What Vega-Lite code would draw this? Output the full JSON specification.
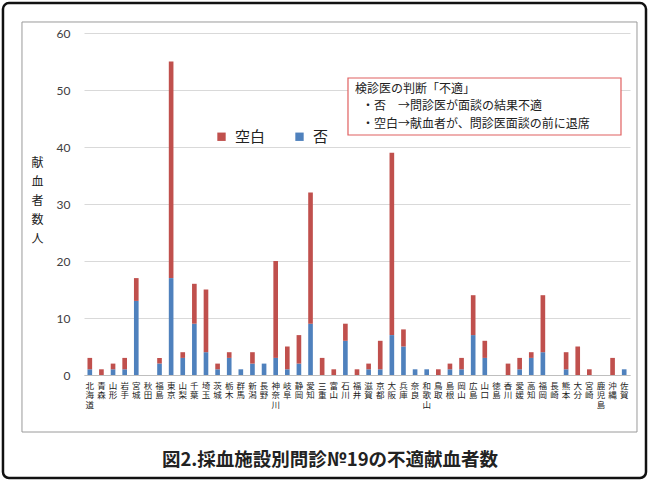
{
  "$schema": "https://vega.github.io/schema/vega-lite/v6.json",
  "autosize": {"type": "none"},
  "width": 546,
  "height": 342,
  "padding": {"left": 84, "top": 33, "right": 19, "bottom": 106},
  "background": "white",
  "config": {"view": {"stroke": null}, "font": "Noto Sans CJK JP"},
  "title": {"text": "図2.採血施設別問診№19の不適献血者数", "orient": "bottom", "frame": "group", "anchor": "middle", "baseline": "top", "fontSize": 18.5, "fontWeight": "bold", "color": "#222222", "dx": -27, "offset": -28, "font": "Noto Sans CJK JP"},
  "layer": [
    {
      "data": {"values": [
        {"pref": "北海道", "type": "否", "n": 1}, {"pref": "北海道", "type": "空白", "n": 2},
        {"pref": "青森", "type": "否", "n": 0}, {"pref": "青森", "type": "空白", "n": 1},
        {"pref": "山形", "type": "否", "n": 1}, {"pref": "山形", "type": "空白", "n": 1},
        {"pref": "岩手", "type": "否", "n": 1}, {"pref": "岩手", "type": "空白", "n": 2},
        {"pref": "宮城", "type": "否", "n": 13}, {"pref": "宮城", "type": "空白", "n": 4},
        {"pref": "秋田", "type": "否", "n": 0}, {"pref": "秋田", "type": "空白", "n": 0},
        {"pref": "福島", "type": "否", "n": 2}, {"pref": "福島", "type": "空白", "n": 1},
        {"pref": "東京", "type": "否", "n": 17}, {"pref": "東京", "type": "空白", "n": 38},
        {"pref": "山梨", "type": "否", "n": 3}, {"pref": "山梨", "type": "空白", "n": 1},
        {"pref": "千葉", "type": "否", "n": 9}, {"pref": "千葉", "type": "空白", "n": 7},
        {"pref": "埼玉", "type": "否", "n": 4}, {"pref": "埼玉", "type": "空白", "n": 11},
        {"pref": "茨城", "type": "否", "n": 1}, {"pref": "茨城", "type": "空白", "n": 1},
        {"pref": "栃木", "type": "否", "n": 3}, {"pref": "栃木", "type": "空白", "n": 1},
        {"pref": "群馬", "type": "否", "n": 1}, {"pref": "群馬", "type": "空白", "n": 0},
        {"pref": "新潟", "type": "否", "n": 2}, {"pref": "新潟", "type": "空白", "n": 2},
        {"pref": "長野", "type": "否", "n": 2}, {"pref": "長野", "type": "空白", "n": 0},
        {"pref": "神奈川", "type": "否", "n": 3}, {"pref": "神奈川", "type": "空白", "n": 17},
        {"pref": "岐阜", "type": "否", "n": 1}, {"pref": "岐阜", "type": "空白", "n": 4},
        {"pref": "静岡", "type": "否", "n": 2}, {"pref": "静岡", "type": "空白", "n": 5},
        {"pref": "愛知", "type": "否", "n": 9}, {"pref": "愛知", "type": "空白", "n": 23},
        {"pref": "三重", "type": "否", "n": 0}, {"pref": "三重", "type": "空白", "n": 3},
        {"pref": "富山", "type": "否", "n": 0}, {"pref": "富山", "type": "空白", "n": 1},
        {"pref": "石川", "type": "否", "n": 6}, {"pref": "石川", "type": "空白", "n": 3},
        {"pref": "福井", "type": "否", "n": 0}, {"pref": "福井", "type": "空白", "n": 1},
        {"pref": "滋賀", "type": "否", "n": 1}, {"pref": "滋賀", "type": "空白", "n": 1},
        {"pref": "京都", "type": "否", "n": 1}, {"pref": "京都", "type": "空白", "n": 5},
        {"pref": "大阪", "type": "否", "n": 7}, {"pref": "大阪", "type": "空白", "n": 32},
        {"pref": "兵庫", "type": "否", "n": 5}, {"pref": "兵庫", "type": "空白", "n": 3},
        {"pref": "奈良", "type": "否", "n": 1}, {"pref": "奈良", "type": "空白", "n": 0},
        {"pref": "和歌山", "type": "否", "n": 1}, {"pref": "和歌山", "type": "空白", "n": 0},
        {"pref": "鳥取", "type": "否", "n": 0}, {"pref": "鳥取", "type": "空白", "n": 1},
        {"pref": "島根", "type": "否", "n": 1}, {"pref": "島根", "type": "空白", "n": 1},
        {"pref": "岡山", "type": "否", "n": 1}, {"pref": "岡山", "type": "空白", "n": 2},
        {"pref": "広島", "type": "否", "n": 7}, {"pref": "広島", "type": "空白", "n": 7},
        {"pref": "山口", "type": "否", "n": 3}, {"pref": "山口", "type": "空白", "n": 3},
        {"pref": "徳島", "type": "否", "n": 0}, {"pref": "徳島", "type": "空白", "n": 0},
        {"pref": "香川", "type": "否", "n": 0}, {"pref": "香川", "type": "空白", "n": 2},
        {"pref": "愛媛", "type": "否", "n": 1}, {"pref": "愛媛", "type": "空白", "n": 2},
        {"pref": "高知", "type": "否", "n": 3}, {"pref": "高知", "type": "空白", "n": 1},
        {"pref": "福岡", "type": "否", "n": 4}, {"pref": "福岡", "type": "空白", "n": 10},
        {"pref": "長崎", "type": "否", "n": 0}, {"pref": "長崎", "type": "空白", "n": 0},
        {"pref": "熊本", "type": "否", "n": 1}, {"pref": "熊本", "type": "空白", "n": 3},
        {"pref": "大分", "type": "否", "n": 0}, {"pref": "大分", "type": "空白", "n": 5},
        {"pref": "宮崎", "type": "否", "n": 0}, {"pref": "宮崎", "type": "空白", "n": 1},
        {"pref": "鹿児島", "type": "否", "n": 0}, {"pref": "鹿児島", "type": "空白", "n": 0},
        {"pref": "沖縄", "type": "否", "n": 0}, {"pref": "沖縄", "type": "空白", "n": 3},
        {"pref": "佐賀", "type": "否", "n": 1}, {"pref": "佐賀", "type": "空白", "n": 0}
      ]},
      "mark": {"type": "bar"},
      "encoding": {
        "x": {"field": "pref", "type": "nominal", "sort": null,
              "scale": {"paddingInner": 0.6, "paddingOuter": 0.3},
              "axis": {"title": null, "labelExpr": "split(datum.label, '')", "labelAngle": 0, "labelBaseline": "top",
                       "labelFontSize": 8.5, "labelLineHeight": 9.5, "labelPadding": 6, "labelColor": "#222222",
                       "labelOverlap": false, "labelFlush": false, "ticks": false, "domainColor": "#bfbfbf", "grid": false}},
        "y": {"field": "n", "type": "quantitative", "stack": "zero",
              "scale": {"domain": [0, 60], "nice": false},
              "axis": {"values": [0, 10, 20, 30, 40, 50, 60], "domain": false, "ticks": false, "gridColor": "#d9d9d9",
                       "labelFont": "Lato", "labelFontSize": 12, "labelColor": "#404040", "labelPadding": 14,
                       "title": ["献", "血", "者", "数", "人"], "titleAngle": 0, "titleX": -47, "titleY": 124,
                       "titleAlign": "center", "titleBaseline": "top", "titleLineHeight": 19,
                       "titleFontSize": 12, "titleFontWeight": "normal", "titleColor": "#222222"}},
        "color": {"field": "type", "type": "nominal",
                  "scale": {"domain": ["空白", "否"], "range": ["#c0504d", "#4f81bd"]},
                  "legend": {"title": null, "orient": "none", "direction": "horizontal", "legendX": 130, "legendY": 96,
                             "symbolType": "square", "symbolSize": 70, "labelFontSize": 15, "labelColor": "#222222",
                             "labelOffset": 6, "columnPadding": 26}},
        "order": {"field": "type", "sort": "ascending"}
      }
    },
    {
      "data": {"values": [{"x1": -0.1136, "x2": 1.0128, "y1": 1.0322, "y2": -0.1667}]},
      "mark": {"type": "rect", "fill": "transparent", "stroke": "#9a9a9a", "strokeWidth": 1},
      "encoding": {
        "x": {"field": "x1", "type": "quantitative", "scale": {"domain": [0, 1], "nice": false, "zero": false}, "axis": null},
        "x2": {"field": "x2"},
        "y": {"field": "y1", "type": "quantitative", "scale": {"domain": [0, 1], "nice": false, "zero": false}, "axis": null},
        "y2": {"field": "y2"}
      }
    },
    {
      "data": {"values": [{"x1": -0.1484, "x2": 1.0293, "y1": 1.0877, "y2": -0.3012}]},
      "mark": {"type": "rect", "fill": "transparent", "stroke": "#111111", "strokeWidth": 2.5, "cornerRadius": 6},
      "encoding": {
        "x": {"field": "x1", "type": "quantitative", "scale": {"domain": [0, 1], "nice": false, "zero": false}, "axis": null},
        "x2": {"field": "x2"},
        "y": {"field": "y1", "type": "quantitative", "scale": {"domain": [0, 1], "nice": false, "zero": false}, "axis": null},
        "y2": {"field": "y2"}
      }
    },
    {
      "data": {"values": [{"x1": 0.4835, "x2": 0.9835, "y1": 0.8684, "y2": 0.7018}]},
      "mark": {"type": "rect", "fill": "white", "stroke": "#e06060", "strokeWidth": 1.2},
      "encoding": {
        "x": {"field": "x1", "type": "quantitative", "scale": {"domain": [0, 1], "nice": false, "zero": false}, "axis": null},
        "x2": {"field": "x2"},
        "y": {"field": "y1", "type": "quantitative", "scale": {"domain": [0, 1], "nice": false, "zero": false}, "axis": null},
        "y2": {"field": "y2"}
      }
    },
    {
      "data": {"values": [
        {"x": 0.4963, "y": 0.8363, "t": "検診医の判断「不適」"},
        {"x": 0.5092, "y": 0.7865, "t": "・否　→問診医が面談の結果不適"},
        {"x": 0.5092, "y": 0.7339, "t": "・空白→献血者が、問診医面談の前に退席"}
      ]},
      "mark": {"type": "text", "align": "left", "baseline": "middle", "fontSize": 12, "color": "#222222"},
      "encoding": {
        "x": {"field": "x", "type": "quantitative", "scale": {"domain": [0, 1], "nice": false, "zero": false}, "axis": null},
        "y": {"field": "y", "type": "quantitative", "scale": {"domain": [0, 1], "nice": false, "zero": false}, "axis": null},
        "text": {"field": "t"}
      }
    }
  ],
  "resolve": {"scale": {"x": "independent", "y": "independent"}}
}
